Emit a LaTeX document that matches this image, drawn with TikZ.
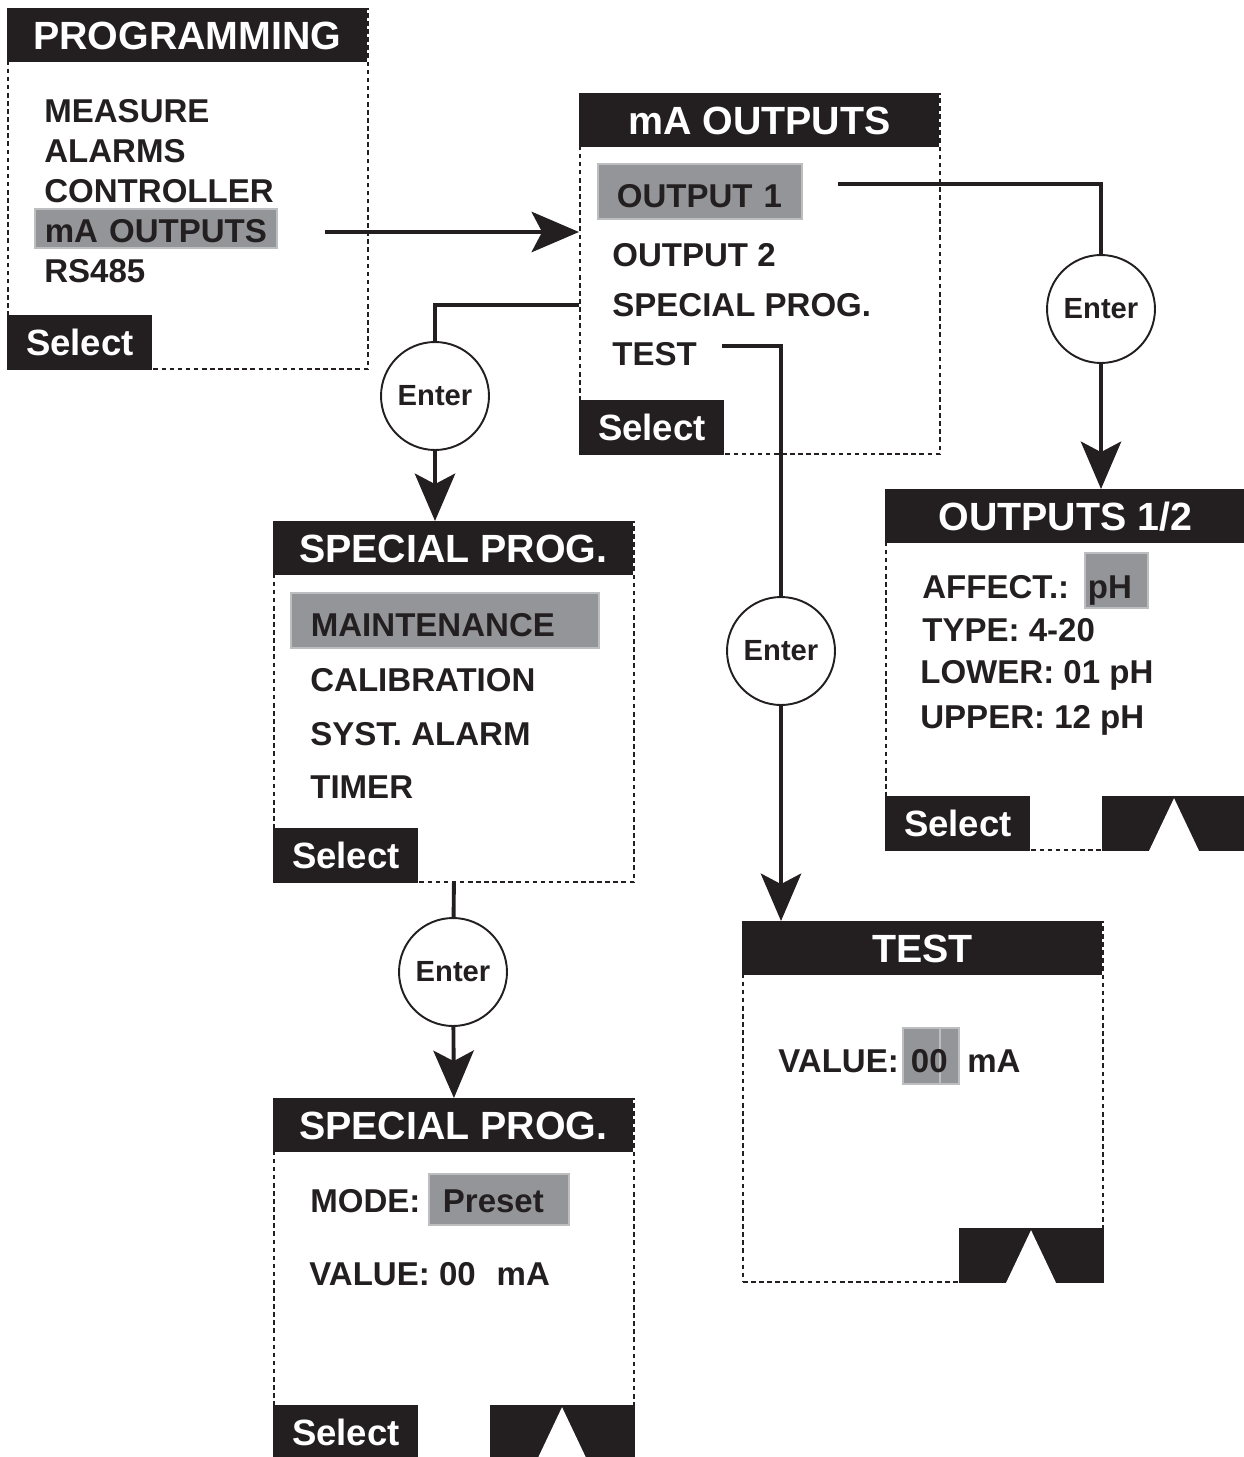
\documentclass[tikz,border=0pt]{standalone}
\usepackage{fontspec}
\setmainfont{Liberation Sans}
\usepackage{tikz}
\usetikzlibrary{arrows.meta}
\definecolor{ink}{HTML}{231F20}
\definecolor{lcdgray}{HTML}{939598}
\definecolor{lcdedge}{HTML}{BCBEC0}
\newcommand{\scrtitle}{\fontsize{22.4}{26}\selectfont\bfseries}
\newcommand{\scritem}{\fontsize{18.8}{22}\selectfont\bfseries}
\newcommand{\scrkey}{\fontsize{20.8}{24}\selectfont\bfseries}
\newcommand{\screnter}{\fontsize{16.6}{20}\selectfont\bfseries}

\begin{document}
\begin{tikzpicture}[
  x=0.02cm, y=-0.02cm,
  screen/.style={
    draw=ink, line width=1.1pt, dash pattern=on 2.6pt off 2pt,
    minimum width=7.2cm, minimum height=7.2cm, anchor=north west, inner sep=0pt,
  },
  titlebar/.style={
    fill=ink, text=white, font=\scrtitle, minimum width=7.2cm, minimum height=1.08cm,
    anchor=north west, inner sep=0pt, text height=16pt, text depth=0pt,
  },
  item/.style={font=\scritem, text=ink, anchor=base west, inner sep=0pt},
  hilite/.style={item, fill=lcdgray, draw=lcdedge, line width=1pt, inner ysep=0pt, align=left},
  selkey/.style={
    fill=ink, text=white, font=\scrkey, minimum width=2.9cm, minimum height=1.1cm,
    anchor=south west, inner sep=0pt,
  },
  upkey/.style={fill=ink, minimum width=2.9cm, minimum height=1.1cm, anchor=south east, inner sep=0pt},
  enter/.style={circle, draw=ink, line width=1.1pt, fill=white, minimum size=2.16cm, inner sep=0pt, font=\screnter, text=ink},
  link/.style={draw=ink, line width=2.2pt},
  arrow/.style={link, -{Stealth[length=27pt, width=23pt, inset=6pt]}},
]
\useasboundingbox (0,0) rectangle (1244,1457);

% programming menu
\node[screen] (prog) at (7,8) {};
\node[titlebar] (progT) at (prog.north west) {PROGRAMMING};
\node[item] (pMeas) at (44,122) {MEASURE};
\node[item] (pAlarm) at (44,162) {ALARMS};
\node[item] (pCtrl) at (44,202) {CONTROLLER};
\node[hilite, inner xsep=0.2cm, text width=4.44cm, text height=0.66cm, text depth=0.12cm] (pMa) at (34,242) {\mbox{mA OUTPUTS}};
\node[item] (pRs) at (44,282) {RS485};
\node[selkey] (progS) at (prog.south west) {Select};

% mA outputs menu
\node[screen] (maout) at (579,93) {};
\node[titlebar] (maT) at (maout.north west) {mA OUTPUTS};
\node[hilite, inner xsep=0.38cm, text width=3.32cm, text height=0.86cm, text depth=0.24cm] (mOut1) at (597,207) {\mbox{OUTPUT 1}};
\node[item] (mOut2) at (612,266) {OUTPUT 2};
\node[item] (mSpec) at (612,316) {SPECIAL PROG.};
\node[item] (mTest) at (612,365) {TEST};
\node[selkey] (maS) at (maout.south west) {Select};

% outputs 1/2
\node[screen] (outs) at (885,489) {};
\node[titlebar] (outsT) at (outs.north west) {OUTPUTS 1/2};
\node[item] (oAff) at (922,598) {AFFECT.:};
\node[hilite, inner xsep=0.06cm, text width=1.14cm, text height=0.9cm, text depth=0.2cm] (oPh) at (1084,598) {pH};
\node[item] (oType) at (922,641) {TYPE: 4-20};
\node[item] (oLow) at (920,683) {LOWER: 01 pH};
\node[item] (oUp) at (920,728) {UPPER: 12 pH};
\node[selkey] (outsS) at (outs.south west) {Select};
\node[upkey] (outsU) at (outs.south east) {};
\fill[white] ([yshift=-0.06cm]outsU.north) -- ([xshift=0.5cm]outsU.south) -- ([xshift=-0.5cm]outsU.south) -- cycle;

% special prog menu
\node[screen] (spec) at (273,521) {};
\node[titlebar] (specT) at (spec.north west) {SPECIAL PROG.};
\node[hilite, inner xsep=0.4cm, text width=5.36cm, text height=0.86cm, text depth=0.24cm] (sMaint) at (290,636) {MAINTENANCE};
\node[item] (sCal) at (310,691) {CALIBRATION};
\node[item] (sAlarm) at (310,745) {SYST. ALARM};
\node[item] (sTimer) at (310,798) {TIMER};
\node[selkey] (specS) at (spec.south west) {Select};

% special prog preset
\node[screen] (pre) at (273,1098) {};
\node[titlebar] (preT) at (pre.north west) {SPECIAL PROG.};
\node[item] (rMode) at (310,1212) {MODE:};
\node[hilite, inner xsep=0.28cm, text width=2.24cm, text height=0.76cm, text depth=0.26cm] (rPreset) at (428,1212) {Preset};
\node[item] (rVal) at (309,1285) {VALUE: 00\hspace{0.42cm}mA};
\node[selkey] (preS) at (pre.south west) {Select};
\node[upkey] (preU) at (pre.south east) {};
\fill[white] ([yshift=-0.06cm]preU.north) -- ([xshift=0.5cm]preU.south) -- ([xshift=-0.5cm]preU.south) -- cycle;

% test
\node[screen] (test) at (742,921) {};
\node[titlebar] (testT) at (test.north west) {TEST};
\node[item] (tVal) at (778,1072) {VALUE:};
\node[hilite, inner xsep=0.16cm, text width=0.8cm, text height=0.88cm, text depth=0.24cm,
  path picture={\draw[lcdedge, line width=1pt]
    ([xshift=0.74cm]path picture bounding box.north west) -- ([xshift=0.74cm]path picture bounding box.south west);}]
  (tZero) at (902,1072) {00};
\node[item] (tMa) at (967,1072) {mA};
\node[upkey] (testU) at (test.south east) {};
\fill[white] ([yshift=-0.06cm]testU.north) -- ([xshift=0.5cm]testU.south) -- ([xshift=-0.5cm]testU.south) -- cycle;

% enter keys
\node[enter] (e1) at (1101,309) {Enter};
\node[enter] (e2) at (435,396) {Enter};
\node[enter] (e3) at (781,651) {Enter};
\node[enter] (e4) at (453,972) {Enter};

% links
\coordinate (pMaR) at (325,232);
\draw[arrow] (pMaR) -- (pMaR -| maout.west);
\coordinate (o1R) at (838,184);
\draw[link] (o1R) -| (e1);
\draw[arrow] (e1) -- (e1 |- outs.north);
\draw[link] (maout.west |- mSpec) -| (e2);
\draw[arrow] (e2) -- (e2 |- spec.north);
\coordinate (tR) at (722,346);
\draw[link] (tR) -| (e3);
\draw[arrow] (e3) -- (e3 |- test.north);
\draw[link] (spec.south) -- (e4);
\draw[arrow] (e4) -- (pre.north);
\end{tikzpicture}
\end{document}
